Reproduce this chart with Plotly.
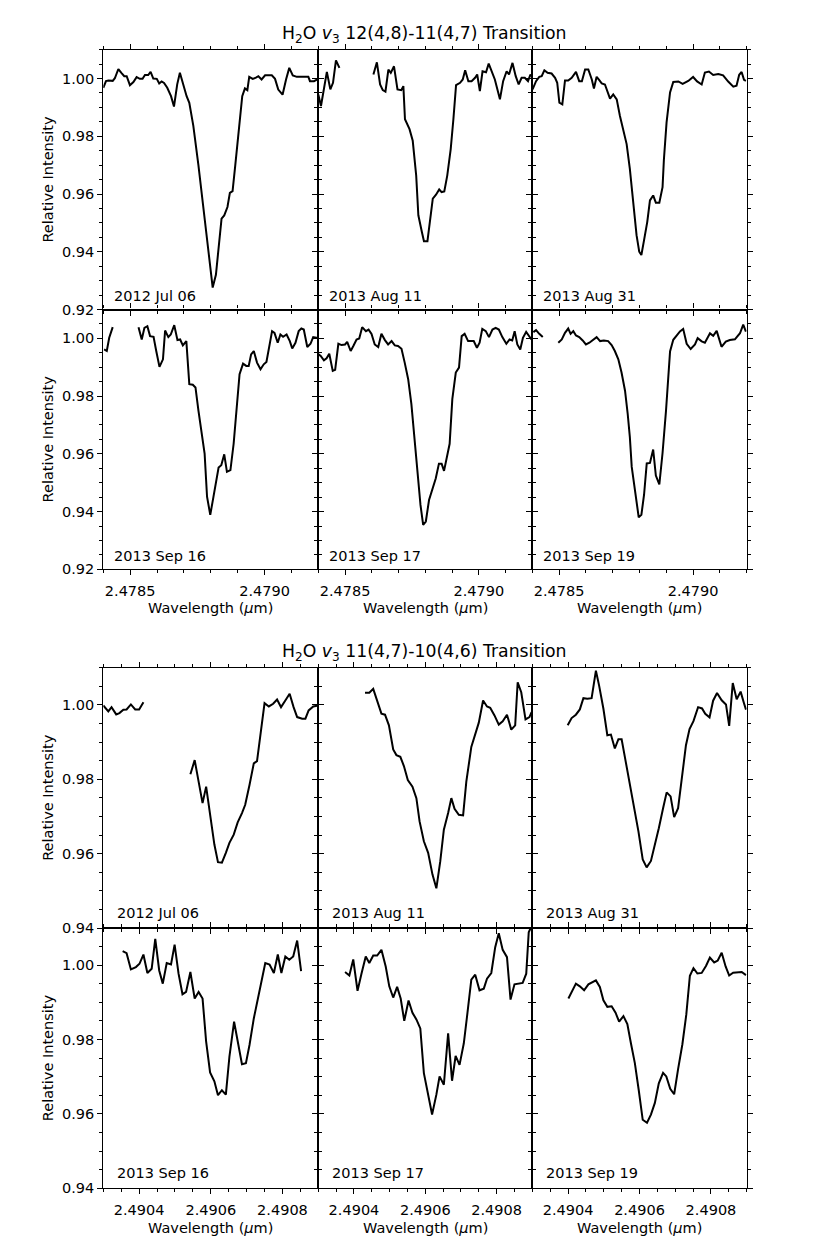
import plotly.graph_objects as go

# ---------------- data: H2O v3 12(4,8)-11(4,7) ----------------
DATES = ["2012 Jul 06", "2013 Aug 11", "2013 Aug 31",
         "2013 Sep 16", "2013 Sep 17", "2013 Sep 19"]

WL_A_JUL06 = [2.478400, 2.478410, 2.478419, 2.478435, 2.478443, 2.478456, 2.478468, 2.478478, 2.478487, 2.478499,
              2.478512, 2.478524, 2.478536, 2.478546, 2.478555, 2.478567, 2.478576, 2.478586, 2.478599, 2.478608,
              2.478617, 2.478626, 2.478638, 2.478652, 2.478663, 2.478675, 2.478685, 2.478698, 2.478710, 2.478720,
              2.478735, 2.478754, 2.478772, 2.478791, 2.478807, 2.478819, 2.478829, 2.478840, 2.478850, 2.478862,
              2.478871, 2.478881, 2.478891, 2.478905, 2.478917, 2.478927, 2.478936, 2.478943, 2.478956, 2.478968,
              2.478977, 2.478989, 2.479002, 2.479027, 2.479039, 2.479051, 2.479067, 2.479080, 2.479092, 2.479105,
              2.479120, 2.479144, 2.479163, 2.479169, 2.479184, 2.479200]
IN_A_JUL06 = [0.9968, 0.9991, 0.9993, 0.9992, 1.0001, 1.0033, 1.0019, 1.0008, 1.0008, 0.9977,
              0.9988, 1.0005, 0.9999, 0.9999, 1.0012, 1.0012, 1.0023, 1.0000, 0.9999, 0.9983,
              0.9990, 0.9985, 0.9968, 0.9939, 0.9903, 0.9980, 1.0020, 0.9974, 0.9939, 0.9916,
              0.9836, 0.9699, 0.9561, 0.9401, 0.9276, 0.9320, 0.9423, 0.9515, 0.9526, 0.9555,
              0.9604, 0.9610, 0.9699, 0.9825, 0.9939, 0.9966, 0.9960, 1.0006, 0.9999, 1.0003,
              1.0008, 0.9997, 1.0011, 1.0011, 0.9999, 0.9962, 0.9944, 0.9997, 1.0037, 1.0011,
              1.0006, 1.0006, 1.0006, 0.9991, 0.9991, 0.9999]

WL_A_AUG11 = [2.478400, 2.478410, 2.478432, 2.478445, 2.478455, 2.478466, 2.478479, None,
              2.478606, 2.478619, 2.478631, 2.478641, 2.478651, 2.478662, 2.478671, 2.478683, 2.478696, 2.478710,
              2.478718, 2.478724, 2.478741, 2.478753, 2.478766, 2.478774, 2.478787, 2.478795, 2.478808, 2.478818,
              2.478828, 2.478840, 2.478852, 2.478861, 2.478871, 2.478882, 2.478895, 2.478905, 2.478915, 2.478930,
              2.478940, 2.478949, 2.478961, 2.478973, 2.478986, 2.478994, 2.479004, 2.479014, 2.479027, 2.479037,
              2.479048, 2.479060, 2.479079, 2.479091, 2.479104, 2.479113, 2.479126, 2.479138, 2.479149, 2.479160,
              2.479172, 2.479184, 2.479193, 2.479198]
IN_A_AUG11 = [0.99451, 0.99049, 1.00233, 0.99623, 0.99854, 1.00632, 1.00370, None,
              1.00140, 1.00563, 0.99795, 0.99599, 0.99544, 1.00312, 1.00198, 1.00425, 0.99623, 0.99599,
              0.99737, 0.98591, 0.98247, 0.97844, 0.96639, 0.95263, 0.94691, 0.94368, 0.94368, 0.95149,
              0.95838, 0.95975, 0.96158, 0.96068, 0.96089, 0.96639, 0.97558, 0.98591, 0.99771, 0.99854,
              0.99967, 1.00288, 0.99909, 0.99909, 1.00026, 1.00140, 0.99565, 1.00253, 1.00219, 1.00518,
              1.00253, 0.99967, 0.99279, 0.99909, 1.00253, 1.00140, 1.00542, 1.00081, 0.99795, 1.00026,
              1.00026, 0.99909, 1.00140, 1.00081]

WL_A_AUG31 = [2.478401, 2.478414, 2.478426, 2.478435, 2.478445, 2.478457, 2.478472, 2.478485, 2.478493, 2.478501,
              2.478512, 2.478522, 2.478534, 2.478547, 2.478563, 2.478575, 2.478585, 2.478597, 2.478609, 2.478622,
              2.478630, 2.478640, 2.478650, 2.478659, 2.478671, 2.478680, 2.478690, 2.478702, 2.478715, 2.478727,
              2.478742, 2.478752, 2.478764, 2.478777, 2.478789, 2.478799, 2.478807, 2.478817, 2.478829, 2.478839,
              2.478851, 2.478861, 2.478874, 2.478886, 2.478891, 2.478901, 2.478914, 2.478926, 2.478945, 2.478961,
              2.478982, 2.479000, 2.479015, 2.479032, 2.479044, 2.479059, 2.479075, 2.479094, 2.479112, 2.479131,
              2.479150, 2.479162, 2.479172, 2.479181, 2.479190, 2.479197]
IN_A_AUG31 = [0.99623, 0.99909, 1.00060, 1.00081, 1.00288, 1.00198, 1.00174, 1.00026, 0.99854, 0.99166,
              0.99107, 0.99933, 0.99933, 1.00026, 1.00233, 0.99909, 0.99909, 1.00312, 1.00312, 0.99967,
              0.99658, 1.00060, 0.99943, 0.99830, 0.99795, 0.99565, 0.99303, 0.99451, 0.99279, 0.98704,
              0.98133, 0.97730, 0.96870, 0.95607, 0.94574, 0.94003, 0.93886, 0.94402, 0.95036, 0.95779,
              0.95951, 0.95700, 0.95700, 0.96240, 0.97187, 0.98481, 0.99520, 0.99881, 0.99899, 0.99813,
              0.99916, 1.00054, 0.99899, 0.99795, 1.00209, 1.00243, 1.00122, 1.00157, 1.00109, 0.99895,
              0.99720, 0.99754, 1.00133, 1.00226, 0.99954, 0.99920]

WL_A_SEP16 = [2.478403, 2.478413, 2.478422, 2.478435, None,
              2.478531, 2.478543, 2.478553, 2.478564, 2.478574, 2.478587, 2.478597, 2.478609, 2.478622, 2.478630,
              2.478642, 2.478651, 2.478664, 2.478676, 2.478686, 2.478696, 2.478709, 2.478720, 2.478733, 2.478743,
              2.478754, 2.478767, 2.478777, 2.478786, 2.478798, 2.478810, 2.478829, 2.478839, 2.478850, 2.478860,
              2.478873, 2.478885, 2.478898, 2.478907, 2.478920, 2.478932, 2.478941, 2.478950, 2.478960, 2.478972,
              2.478985, 2.478997, 2.479007, 2.479015, 2.479028, 2.479037, 2.479049, 2.479059, 2.479069, 2.479082,
              2.479094, 2.479103, 2.479115, 2.479127, 2.479137, 2.479146, 2.479159, 2.479171, 2.479181, 2.479193,
              2.479200]
IN_A_SEP16 = [0.99617, 0.99562, 1.00020, 1.00388, None,
              1.00388, 0.99961, 1.00364, 1.00422, 1.00078, 1.00054, 0.99562, 0.99012, 0.99273, 1.00271,
              1.00044, 1.00133, 1.00456, 0.99940, 0.99961, 0.99755, 0.99906, 0.98413, 0.98392, 0.98300,
              0.97498, 0.96693, 0.96005, 0.94516, 0.93886, 0.94516, 0.95524, 0.95606, 0.95985, 0.95376,
              0.95434, 0.96349, 0.97725, 0.98757, 0.99125, 0.99046, 0.99046, 0.99445, 0.99562, 0.99160,
              0.98929, 0.99101, 0.99184, 0.99617, 1.00250, 1.00192, 0.99848, 1.00133, 1.00054, 1.00133,
              0.99906, 0.99652, 0.99848, 1.00250, 1.00340, 1.00305, 0.99700, 0.99813, 1.00044, 1.00020,
              1.00020]

WL_A_SEP17 = [2.478401, 2.478409, 2.478421, 2.478431, 2.478441, 2.478454, 2.478463, 2.478475, 2.478487, 2.478500,
              2.478508, 2.478521, 2.478531, 2.478543, 2.478553, 2.478564, 2.478578, 2.478588, 2.478599, 2.478611,
              2.478624, 2.478636, 2.478649, 2.478661, 2.478674, 2.478686, 2.478698, 2.478711, 2.478723, 2.478736,
              2.478748, 2.478761, 2.478773, 2.478782, 2.478792, 2.478802, 2.478814, 2.478827, 2.478839, 2.478851,
              2.478861, 2.478870, 2.478881, 2.478891, 2.478901, 2.478914, 2.478926, 2.478936, 2.478947, 2.478960,
              2.478972, 2.478981, 2.478993, 2.479003, 2.479013, 2.479026, 2.479038, 2.479051, 2.479063, 2.479075,
              2.479088, 2.479103, 2.479115, 2.479125, 2.479134, 2.479144, 2.479155, 2.479165, 2.479177, 2.479187,
              2.479197]
IN_A_SEP17 = [0.99445, 0.99390, 0.99239, 0.99308, 0.99469, 0.98874, 0.98908, 0.99813, 0.99768, 0.99789,
              0.99882, 0.99562, 0.99734, 0.99961, 0.99996, 1.00388, 1.00250, 1.00305, 1.00157, 0.99789,
              0.99700, 1.00157, 0.99940, 0.99789, 0.99906, 0.99755, 0.99734, 0.99641, 0.99160, 0.98585,
              0.97725, 0.96408, 0.95032, 0.94230, 0.93542, 0.93656, 0.94402, 0.94836, 0.95145, 0.95661,
              0.95661, 0.95410, 0.95950, 0.96349, 0.97897, 0.98816, 0.98988, 1.00078, 1.00157, 0.99906,
              0.99906, 0.99906, 0.99676, 0.99848, 1.00329, 1.00250, 1.00044, 1.00305, 1.00364, 1.00305,
              1.00044, 0.99813, 0.99961, 0.99927, 1.00250, 0.99789, 0.99617, 1.00020, 1.00226, 1.00078,
              0.99961]

WL_A_SEP19 = [2.478404, 2.478414, 2.478426, 2.478439, None,
              2.478497, 2.478510, 2.478522, 2.478534, 2.478543, 2.478553, 2.478563, 2.478575, 2.478588, 2.478600,
              2.478613, 2.478625, 2.478640, 2.478653, 2.478667, 2.478683, 2.478696, 2.478708, 2.478721, 2.478733,
              2.478746, 2.478756, 2.478764, 2.478771, 2.478779, 2.478789, 2.478797, 2.478807, 2.478817, 2.478827,
              2.478839, 2.478851, 2.478861, 2.478874, 2.478886, 2.478899, 2.478914, 2.478926, 2.478939, 2.478951,
              2.478963, 2.478976, 2.478991, 2.479007, 2.479017, 2.479032, 2.479044, 2.479063, 2.479075, 2.479088,
              2.479106, 2.479122, 2.479137, 2.479156, 2.479175, 2.479187, 2.479197]
IN_A_SEP19 = [1.00216, 1.00284, 1.00157, 1.00044, None,
              0.99848, 0.99961, 1.00192, 1.00340, 1.00157, 1.00250, 1.00099, 1.00044, 0.99927, 0.99789,
              0.99848, 0.99927, 1.00044, 0.99906, 0.99927, 0.99906, 0.99768, 0.99562, 0.99273, 0.98816,
              0.98186, 0.97381, 0.96580, 0.95548, 0.94973, 0.94285, 0.93804, 0.93886, 0.94584, 0.95668,
              0.95685, 0.96150, 0.95248, 0.94939, 0.96029, 0.97508, 0.99548, 0.99951, 1.00109, 1.00243,
              1.00329, 0.99813, 0.99631, 0.99789, 1.00009, 0.99896, 0.99848, 1.00174, 1.00088, 1.00260,
              0.99707, 0.99885, 0.99944, 0.99968, 1.00178, 1.00474, 1.00236]

# ---------------- data: H2O v3 11(4,7)-10(4,6) ----------------
WL_B_JUL06 = [2.490300, 2.490314, 2.490323, 2.490336, 2.490345, 2.490356, 2.490365, 2.490377, 2.490389, 2.490400,
              2.490412, None,
              2.490543, 2.490555, 2.490566, 2.490577, 2.490587, 2.490598, 2.490610, 2.490620, 2.490631, 2.490642,
              2.490652, 2.490664, 2.490675, 2.490687, 2.490696, 2.490708, 2.490720, 2.490729, 2.490740, 2.490750,
              2.490762, 2.490774, 2.490785, 2.490796, 2.490808, 2.490820, 2.490831, 2.490841, 2.490855, 2.490864,
              2.490873, 2.490886, 2.490900]
IN_B_JUL06 = [0.99985, 0.99824, 0.99939, 0.99744, 0.99779, 0.99870, 0.99878, 1.00011, 0.99878, 0.99878,
              1.00073, None,
              0.98133, 0.98515, 0.97935, 0.97358, 0.97802, 0.97045, 0.96244, 0.95771, 0.95755, 0.96022,
              0.96289, 0.96511, 0.96840, 0.97091, 0.97313, 0.97847, 0.98427, 0.98488, 0.99271, 1.00046,
              0.99958, 1.00030, 1.00145, 0.99939, 1.00118, 1.00297, 0.99939, 0.99672, 0.99629, 0.99629,
              0.99851, 0.99958, 0.99985]

WL_B_AUG11 = [2.490431, 2.490443, 2.490454, 2.490465, 2.490477, 2.490487, 2.490498, 2.490510, 2.490519, 2.490530,
              2.490540, 2.490551, 2.490564, 2.490575, 2.490584, 2.490596, 2.490608, 2.490620, 2.490631, 2.490642,
              2.490652, 2.490664, 2.490673, 2.490682, 2.490694, 2.490706, 2.490715, 2.490729, 2.490741, 2.490750,
              2.490762, 2.490773, 2.490782, 2.490794, 2.490806, 2.490817, 2.490829, 2.490841, 2.490852, 2.490859,
              2.490869, 2.490881, 2.490892, 2.490898]
IN_B_AUG11 = [1.00324, 1.00324, 1.00431, 1.00100, 0.99763, 0.99736, 0.99450, 0.98801, 0.98649, 0.98603,
              0.98355, 0.97980, 0.97802, 0.97492, 0.96866, 0.96332, 0.96022, 0.95442, 0.95068, 0.95798,
              0.96645, 0.97091, 0.97492, 0.97206, 0.97045, 0.97027, 0.97935, 0.98870, 0.99228, 0.99522,
              1.00118, 0.99958, 0.99923, 0.99717, 0.99469, 0.99557, 0.99736, 0.99335, 0.99450, 1.00607,
              1.00340, 0.99611, 0.99672, 0.99806]

WL_B_AUG31 = [2.490399, 2.490410, 2.490422, 2.490433, 2.490443, 2.490454, 2.490466, 2.490478, 2.490487, 2.490499,
              2.490510, 2.490520, 2.490531, 2.490541, 2.490550, 2.490562, 2.490573, 2.490585, 2.490597, 2.490609,
              2.490620, 2.490632, 2.490643, 2.490654, 2.490666, 2.490676, 2.490687, 2.490697, 2.490708, 2.490719,
              2.490730, 2.490740, 2.490751, 2.490764, 2.490775, 2.490784, 2.490796, 2.490806, 2.490817, 2.490830,
              2.490842, 2.490851, 2.490861, 2.490872, 2.490883, 2.490892, 2.490898]
IN_B_AUG31 = [0.99450, 0.99645, 0.99736, 0.99878, 1.00180, 1.00164, 1.00180, 1.00920, 1.00519, 0.99896,
              0.99183, 0.99202, 0.98828, 0.99076, 0.99076, 0.98470, 0.97847, 0.97224, 0.96599, 0.95843,
              0.95629, 0.95803, 0.96217, 0.96685, 0.97222, 0.97647, 0.97540, 0.96981, 0.97222, 0.98133,
              0.98916, 0.99349, 0.99562, 0.99939, 0.99904, 0.99758, 0.99664, 1.00113, 1.00321, 1.00124,
              1.00011, 0.99434, 1.00589, 1.00150, 1.00356, 1.00059, 0.99872]

WL_B_SEP16 = [2.490354, 2.490365, 2.490377, 2.490391, 2.490401, 2.490412, 2.490423, 2.490435, 2.490445, 2.490456,
              2.490466, 2.490477, 2.490489, 2.490499, 2.490510, 2.490521, 2.490531, 2.490543, 2.490555, 2.490566,
              2.490577, 2.490587, 2.490598, 2.490610, 2.490620, 2.490631, 2.490642, 2.490652, 2.490665, 2.490676,
              2.490687, 2.490698, 2.490708, 2.490720, 2.490731, 2.490741, 2.490752, 2.490764, 2.490776, 2.490787,
              2.490797, 2.490808, 2.490819, 2.490830, 2.490841, 2.490852]
IN_B_SEP16 = [1.00377, 1.00324, 0.99886, 0.99950, 1.00038, 1.00287, 0.99790, 0.99904, 1.00706, 0.99859,
              0.99504, 1.00057, 1.00019, 1.00554, 0.99771, 0.99218, 0.99282, 0.99816, 0.99103, 0.99282,
              0.99103, 0.97946, 0.97118, 0.96877, 0.96503, 0.96637, 0.96519, 0.97545, 0.98480, 0.97946,
              0.97339, 0.97366, 0.97855, 0.98568, 0.99057, 0.99592, 1.00057, 1.00019, 0.99790, 1.00287,
              0.99790, 1.00233, 1.00145, 1.00233, 1.00661, 0.99843]

WL_B_SEP17 = [2.490375, 2.490387, 2.490398, 2.490410, 2.490421, 2.490433, 2.490443, 2.490454, 2.490465, 2.490477,
              2.490489, 2.490499, 2.490510, 2.490521, 2.490531, 2.490541, 2.490553, 2.490564, 2.490575, 2.490586,
              2.490596, 2.490608, 2.490619, 2.490631, 2.490640, 2.490652, 2.490664, 2.490675, 2.490685, 2.490696,
              2.490708, 2.490718, 2.490729, 2.490740, 2.490752, 2.490764, 2.490773, 2.490785, 2.490796, 2.490806,
              2.490817, 2.490829, 2.490839, 2.490850, 2.490861, 2.490873, 2.490883, 2.490890, 2.490898]
IN_B_SEP17 = [0.99816, 0.99725, 1.00153, 0.99309, 0.99771, 1.00233, 1.00057, 1.00260, 1.00260, 1.00412,
              0.99966, 0.99432, 0.99130, 0.99416, 0.99103, 0.98502, 0.99050, 0.98721, 0.98542, 0.98301,
              0.97099, 0.96519, 0.95985, 0.96519, 0.97011, 0.96786, 0.98168, 0.96893, 0.97561, 0.97321,
              0.97900, 0.98702, 0.99611, 0.99744, 0.99325, 0.99370, 0.99637, 0.99790, 1.00484, 1.00858,
              1.00412, 1.00217, 0.99076, 0.99485, 0.99504, 0.99522, 0.99771, 1.00885, 1.01050]

WL_B_SEP19 = [2.490401, 2.490410, 2.490422, 2.490433, 2.490445, 2.490457, 2.490469, 2.490478, 2.490489, 2.490499,
              2.490510, 2.490522, 2.490533, 2.490543, 2.490555, 2.490566, 2.490576, 2.490587, 2.490598, 2.490609,
              2.490621, 2.490632, 2.490643, 2.490654, 2.490666, 2.490675, 2.490686, 2.490697, 2.490708, 2.490720,
              2.490731, 2.490741, 2.490751, 2.490762, 2.490774, 2.490786, 2.490797, 2.490809, 2.490819, 2.490830,
              2.490841, 2.490851, 2.490862, 2.490874, 2.490886, 2.490898]
IN_B_SEP19 = [0.99103, 0.99282, 0.99504, 0.99432, 0.99325, 0.99485, 0.99549, 0.99592, 0.99416, 0.99057,
              0.98881, 0.98897, 0.98721, 0.98480, 0.98630, 0.98416, 0.97900, 0.97366, 0.96631, 0.95843,
              0.95763, 0.95982, 0.96297, 0.96824, 0.97107, 0.97008, 0.96677, 0.96530, 0.97206, 0.97874,
              0.98675, 0.99717, 0.99920, 0.99776, 0.99792, 0.99977, 1.00204, 1.00073, 1.00126, 1.00337,
              0.99966, 0.99723, 0.99798, 0.99798, 0.99816, 0.99733]

TITLES = ["H<sub>2</sub>O <i>v</i><sub>3</sub> 12(4,8)-11(4,7) Transition",
          "H<sub>2</sub>O <i>v</i><sub>3</sub> 11(4,7)-10(4,6) Transition"]
X_RANGES = [[2.4784, 2.4792], [2.4903, 2.4909]]
Y_RANGES = [[0.92, 1.01], [0.94, 1.01]]
X_MAJOR = [(2.4785, 0.0005), (2.4904, 0.0002)]
X_MINOR = [(2.4784, 0.0001), (2.4903, 0.00005)]
Y_MAJOR = [(0.92, 0.02), (0.94, 0.02)]
Y_MINOR = 0.005

SPECTRA = [
    (WL_A_JUL06, IN_A_JUL06), (WL_A_AUG11, IN_A_AUG11), (WL_A_AUG31, IN_A_AUG31),
    (WL_A_SEP16, IN_A_SEP16), (WL_A_SEP17, IN_A_SEP17), (WL_A_SEP19, IN_A_SEP19),
    (WL_B_JUL06, IN_B_JUL06), (WL_B_AUG11, IN_B_AUG11), (WL_B_AUG31, IN_B_AUG31),
    (WL_B_SEP16, IN_B_SEP16), (WL_B_SEP17, IN_B_SEP17), (WL_B_SEP19, IN_B_SEP19),
]

# ---------------- layout geometry (pixels) ----------------
W, H = 830, 1246
COL_X = [(103.3, 318.3), (318.3, 532.3), (532.3, 746.7)]
ROW_Y = [[(50, 311.5), (311.5, 573)], [(672, 934), (934, 1196)]]
FONT = "DejaVu Sans"
FS = 14.5
FS_TITLE = 17.3

fig = go.Figure()
layout = dict(width=W, height=H, margin=dict(l=0, r=0, t=0, b=0),
              paper_bgcolor="white", plot_bgcolor="white", showlegend=False,
              font=dict(family=FONT, size=FS, color="black"))
annotations = []

for i, (wl, inten) in enumerate(SPECTRA):
    n = i + 1
    g = i // 6
    r = (i % 6) // 3
    c = i % 3
    xs = "" if n == 1 else str(n)
    x0, x1 = COL_X[c]
    y0, y1 = ROW_Y[g][r]
    fig.add_trace(go.Scatter(x=wl, y=inten, mode="lines",
                             line=dict(color="black", width=2),
                             xaxis="x" + xs, yaxis="y" + xs, connectgaps=False,
                             hoverinfo="skip"))
    common = dict(showline=True, linecolor="black", linewidth=1.2, mirror="ticks",
                  ticks="outside", ticklen=5, tickwidth=1.1, tickcolor="black",
                  showgrid=False, zeroline=False,
                  tickfont=dict(family=FONT, size=FS, color="black"))
    layout["xaxis" + xs] = dict(
        common, domain=[x0 / W, x1 / W], anchor="y" + xs,
        range=X_RANGES[g], tickmode="linear", tick0=X_MAJOR[g][0], dtick=X_MAJOR[g][1],
        tickformat=".4f", showticklabels=(r == 1), ticklabelstandoff=3,
        minor=dict(ticks="outside", ticklen=3, tickwidth=1, tickcolor="black",
                   tick0=X_MINOR[g][0], dtick=X_MINOR[g][1], showgrid=False))
    layout["yaxis" + xs] = dict(
        common, domain=[1 - y1 / H, 1 - y0 / H], anchor="x" + xs,
        range=Y_RANGES[g], tickmode="linear", tick0=Y_MAJOR[g][0], dtick=Y_MAJOR[g][1],
        tickformat=".2f", showticklabels=(c == 0),
        minor=dict(ticks="outside", ticklen=3, tickwidth=1, tickcolor="black",
                   dtick=Y_MINOR, showgrid=False))
    # date label
    annotations.append(dict(
        text=DATES[i % 6], xref="x" + xs + " domain", yref="y" + xs + " domain",
        x=(0.039 if g == 0 else 0.054), y=(0.051 if g == 0 else 0.058),
        xanchor="left", yanchor="middle", showarrow=False,
        font=dict(family=FONT, size=FS, color="black")))

# group titles
for g, py in enumerate([35, 656.7]):
    annotations.append(dict(text=TITLES[g], xref="paper", yref="paper",
                            x=424.5 / W, y=1 - py / H, xanchor="center", yanchor="middle",
                            showarrow=False, font=dict(family=FONT, size=FS_TITLE, color="black")))

# y labels
for g in range(2):
    for r in range(2):
        y0, y1 = ROW_Y[g][r]
        annotations.append(dict(text="Relative Intensity", xref="paper", yref="paper",
                                x=48 / W, y=1 - (y0 + y1) / 2 / H, textangle=-90,
                                xanchor="center", yanchor="middle", showarrow=False,
                                font=dict(family=FONT, size=FS, color="black")))

# x labels
for g, py in enumerate([612, 1236]):
    for c in range(3):
        x0, x1 = COL_X[c]
        annotations.append(dict(text="Wavelength (<i>μ</i>m)", xref="paper", yref="paper",
                                x=(x0 + x1) / 2 / W, y=1 - py / H,
                                xanchor="center", yanchor="middle", showarrow=False,
                                font=dict(family=FONT, size=FS, color="black")))

layout["annotations"] = annotations
fig.update_layout(**layout)
fig.write_html("out.html", config={"displayModeBar": False},
               post_script="document.body.style.margin='0';document.body.style.overflow='hidden';")
